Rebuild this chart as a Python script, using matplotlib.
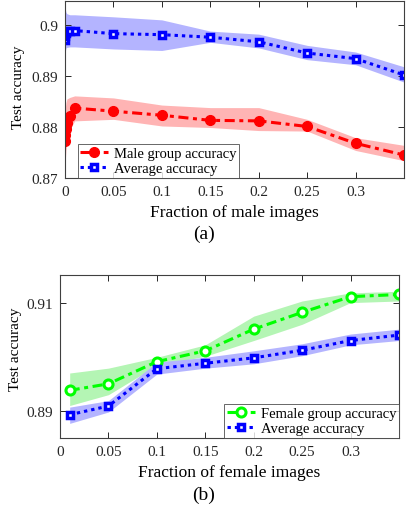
import matplotlib
matplotlib.use("Agg")
import matplotlib.pyplot as plt

plt.rcParams['font.family'] = ['Liberation Serif', 'DejaVu Serif']

# (a) male images
male_frac = [0, 0.0005, 0.001, 0.002, 0.005, 0.01, 0.05, 0.1, 0.15, 0.2, 0.25, 0.3, 0.35]
male_acc = [0.8772, 0.8785, 0.8797, 0.8808, 0.8822, 0.8837, 0.8831, 0.8823, 0.8813, 0.8812, 0.8801, 0.8768, 0.8745]
male_lo = [0.8727, 0.8740, 0.8755, 0.8770, 0.8795, 0.8812, 0.8815, 0.8802, 0.8799, 0.8793, 0.8792, 0.8754, 0.8734]
male_hi = [0.8830, 0.8840, 0.8848, 0.8855, 0.8858, 0.8861, 0.8857, 0.8843, 0.8838, 0.8838, 0.8815, 0.8779, 0.8764]
avg_a = [0.8970, 0.8978, 0.8985, 0.8988, 0.8989, 0.8989, 0.8983, 0.8981, 0.8976, 0.8967, 0.8945, 0.8934, 0.8902]
avg_a_lo = [0.8945, 0.8950, 0.8955, 0.8956, 0.8957, 0.8957, 0.8953, 0.8950, 0.8966, 0.8955, 0.8932, 0.8922, 0.8888]
avg_a_hi = [0.9035, 0.9030, 0.9025, 0.9022, 0.9020, 0.9020, 0.9016, 0.9010, 0.8988, 0.8982, 0.8960, 0.8947, 0.8918]

# (b) female images
female_frac = [0.01, 0.05, 0.1, 0.15, 0.2, 0.25, 0.3, 0.35]
female_acc = [0.8938, 0.8950, 0.8991, 0.9011, 0.9051, 0.9082, 0.9111, 0.9115]
female_lo = [0.8910, 0.8930, 0.8984, 0.9001, 0.9030, 0.9060, 0.9100, 0.9103]
female_hi = [0.8970, 0.8979, 0.8999, 0.9022, 0.9075, 0.9103, 0.9118, 0.9121]
avg_b = [0.8893, 0.8909, 0.8978, 0.8988, 0.8998, 0.9012, 0.9030, 0.9040]
avg_b_lo = [0.8877, 0.8898, 0.8968, 0.8979, 0.8987, 0.9002, 0.9022, 0.9030]
avg_b_hi = [0.8907, 0.8919, 0.8990, 0.8999, 0.9011, 0.9024, 0.9042, 0.9051]

xticks = [0, 0.05, 0.1, 0.15, 0.2, 0.25, 0.3]
xticklabels = ['0', '0.05', '0.1', '0.15', '0.2', '0.25', '0.3']

W, H = 409, 510
fig = plt.figure(figsize=(W / 100, H / 100), dpi=100)

dashdot = (3.3, 1.5, 1.3, 1.5)
dotted = (1.1, 1.3)


def px_axes(l, t, r, b):
    return fig.add_axes([l / W, 1 - b / H, (r - l) / W, (b - t) / H])


def style(ax):
    for s in ax.spines.values():
        s.set_color('#404040')
        s.set_linewidth(0.8)
    ax.tick_params(direction='in', length=4, width=0.7, top=True, right=True,
                   labelsize=11, colors='#262626', pad=5)
    ax.set_xticks(xticks)
    ax.set_xticklabels(xticklabels)
    ax.set_xlim(0, 0.35)


def legend(ax, **kw):
    leg = ax.legend(fontsize=10.5, frameon=True, fancybox=False, borderaxespad=0,
                    handlelength=1.9, borderpad=0.2, labelspacing=0.1,
                    handletextpad=0.4, **kw)
    leg.get_frame().set_edgecolor('#404040')
    leg.get_frame().set_linewidth(0.7)
    return leg


ax1 = px_axes(65, 2, 404, 179)
ax1.fill_between(male_frac, male_lo, male_hi, color='#ffb4b4', lw=0)
ax1.fill_between(male_frac, avg_a_lo, avg_a_hi, color='#b4b4ff', lw=0)
ax1.plot(male_frac, male_acc, color='red', lw=2.2, dashes=dashdot,
         marker='o', ms=7, mfc='red', mec='red', mew=1, label='Male group accuracy')
ax1.plot(male_frac, avg_a, color='blue', lw=2.2, dashes=dotted,
         marker='s', ms=5, mfc='white', mec='blue', mew=2.5, label='Average accuracy')
ax1.set_ylim(0.87, 0.9047)
ax1.set_yticks([0.87, 0.88, 0.89, 0.9])
ax1.set_yticklabels(['0.87', '0.88', '0.89', '0.9'])
style(ax1)
ax1.set_ylabel('Test accuracy', fontsize=11)
ax1.yaxis.set_label_coords(-0.118, 0.52)
ax1.set_xlabel('Fraction of male images', fontsize=12.5)
ax1.xaxis.set_label_coords(0.5, -0.145)
legend(ax1, loc='lower left', bbox_to_anchor=(0.037, 0.0))
fig.text(204 / W, 1 - 234 / H, '(a)', fontsize=14, ha='center', va='center')

ax2 = px_axes(60, 276, 399, 439)
ax2.fill_between(female_frac, female_lo, female_hi, color='#b4f5b4', lw=0)
ax2.fill_between(female_frac, avg_b_lo, avg_b_hi, color='#b4b4ff', lw=0)
ax2.plot(female_frac, female_acc, color='#00ff00', lw=2.2, dashes=dashdot,
         marker='o', ms=6.5, mfc='white', mec='#00ff00', mew=2.2, label='Female group accuracy')
ax2.plot(female_frac, avg_b, color='blue', lw=2.2, dashes=dotted,
         marker='s', ms=5, mfc='white', mec='blue', mew=2.5, label='Average accuracy')
ax2.set_ylim(0.885, 0.9151)
ax2.set_yticks([0.89, 0.91])
ax2.set_yticklabels(['0.89', '0.91'])
style(ax2)
ax2.set_ylabel('Test accuracy', fontsize=11)
ax2.yaxis.set_label_coords(-0.112, 0.55)
ax2.set_xlabel('Fraction of female images', fontsize=12.5)
ax2.xaxis.set_label_coords(0.5, -0.16)
legend(ax2, loc='lower right')
fig.text(204 / W, 1 - 495 / H, '(b)', fontsize=14, ha='center', va='center')

fig.savefig('out.png', dpi=100)
